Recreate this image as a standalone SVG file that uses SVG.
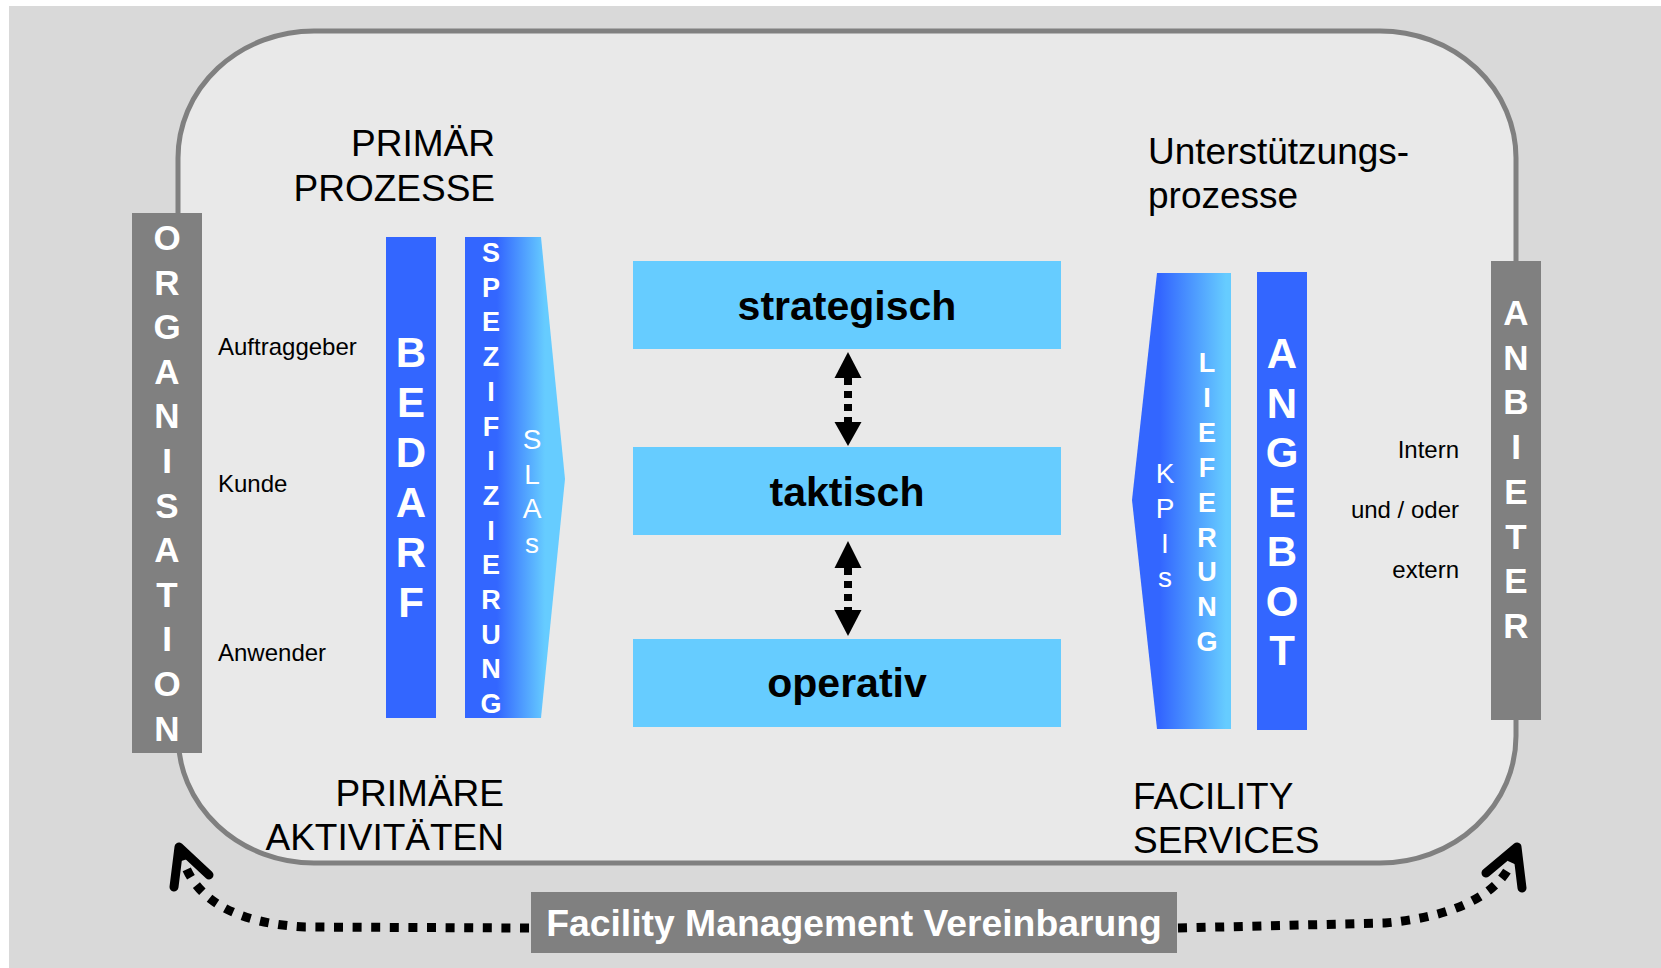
<svg xmlns="http://www.w3.org/2000/svg" width="1661" height="968" viewBox="0 0 1661 968">
<defs>
<style>
.lbl{font-family:"Liberation Sans",Arial,sans-serif;fill:#000}
.vb{font-family:"Liberation Sans",Arial,sans-serif;font-weight:bold;fill:#fff;text-anchor:middle}
.vr{font-family:"Liberation Sans",Arial,sans-serif;fill:#fff;text-anchor:middle}
.gray{fill:#808080}
.blue{fill:#3366ff}
.lev{fill:#66ccff}
.levt{font-family:"Liberation Sans",Arial,sans-serif;font-weight:bold;font-size:41px;fill:#000;text-anchor:middle}
.dot{fill:none;stroke:#000;stroke-width:9;stroke-dasharray:9 9.6}
.head{fill:none;stroke:#000;stroke-width:9;stroke-linecap:round;stroke-linejoin:round}
.vdot{fill:none;stroke:#000;stroke-width:8;stroke-dasharray:7 6}
</style>
<linearGradient id="gSpez" gradientUnits="userSpaceOnUse" x1="497" y1="0" x2="545" y2="0">
<stop offset="0" stop-color="#3366ff"/>
<stop offset="1" stop-color="#66ccff"/>
</linearGradient>
<linearGradient id="gLief" gradientUnits="userSpaceOnUse" x1="1160" y1="0" x2="1226" y2="0">
<stop offset="0" stop-color="#3366ff"/>
<stop offset="1" stop-color="#66ccff"/>
</linearGradient>
</defs>
<rect x="0" y="0" width="1661" height="968" fill="#fff"/>
<rect x="9" y="6" width="1652" height="962" fill="#d9d9d9"/>
<g id="frame">
<rect x="178" y="31" width="1338" height="832" rx="136" ry="127" fill="#e9e9e9" stroke="#808080" stroke-width="5"/>
</g>
<g id="titles" class="lbl">
<text x="495" y="156" font-size="37" text-anchor="end">PRIMÄR</text>
<text x="495" y="201" font-size="37" text-anchor="end">PROZESSE</text>
<text x="1148" y="164" font-size="37">Unterstützungs-</text>
<text x="1148" y="208" font-size="37">prozesse</text>
<text x="504" y="806" font-size="37" text-anchor="end">PRIMÄRE</text>
<text x="504" y="850" font-size="37" text-anchor="end">AKTIVITÄTEN</text>
<text x="1133" y="809" font-size="37">FACILITY</text>
<text x="1133" y="853" font-size="37">SERVICES</text>
</g>
<g id="organisation">
<rect class="gray" x="132" y="213" width="70" height="540"/>
<text class="vb" font-size="35"><tspan x="167" y="250">O</tspan><tspan x="167" y="294.6">R</tspan><tspan x="167" y="339.2">G</tspan><tspan x="167" y="383.8">A</tspan><tspan x="167" y="428.4">N</tspan><tspan x="167" y="473">I</tspan><tspan x="167" y="517.6">S</tspan><tspan x="167" y="562.2">A</tspan><tspan x="167" y="606.8">T</tspan><tspan x="167" y="651.4">I</tspan><tspan x="167" y="696">O</tspan><tspan x="167" y="740.6">N</tspan></text>
</g>
<g id="roles" class="lbl" font-size="24">
<text x="218" y="355">Auftraggeber</text>
<text x="218" y="492">Kunde</text>
<text x="218" y="661">Anwender</text>
</g>
<g id="bedarf">
<rect class="blue" x="386" y="237" width="50" height="481"/>
<text class="vb" font-size="42"><tspan x="411" y="367">B</tspan><tspan x="411" y="417">E</tspan><tspan x="411" y="467">D</tspan><tspan x="411" y="517">A</tspan><tspan x="411" y="567">R</tspan><tspan x="411" y="617">F</tspan></text>
</g>
<g id="spezifizierung">
<polygon points="465,237 541,237 565,479 541,718 465,718" fill="url(#gSpez)"/>
<text class="vb" font-size="27"><tspan x="491" y="262">S</tspan><tspan x="491" y="296.7">P</tspan><tspan x="491" y="331.4">E</tspan><tspan x="491" y="366.1">Z</tspan><tspan x="491" y="400.8">I</tspan><tspan x="491" y="435.5">F</tspan><tspan x="491" y="470.2">I</tspan><tspan x="491" y="504.9">Z</tspan><tspan x="491" y="539.6">I</tspan><tspan x="491" y="574.3">E</tspan><tspan x="491" y="609">R</tspan><tspan x="491" y="643.7">U</tspan><tspan x="491" y="678.4">N</tspan><tspan x="491" y="713.1">G</tspan></text>
<text class="vr" font-size="28"><tspan x="532" y="449">S</tspan><tspan x="532" y="483.5">L</tspan><tspan x="532" y="518">A</tspan><tspan x="532" y="552.5">s</tspan></text>
</g>
<g id="strategisch">
<rect class="lev" x="633" y="261" width="428" height="88"/>
<text class="levt" x="847" y="320">strategisch</text>
</g>
<g id="taktisch">
<rect class="lev" x="633" y="447" width="428" height="88"/>
<text class="levt" x="847" y="506">taktisch</text>
</g>
<g id="operativ">
<rect class="lev" x="633" y="639" width="428" height="88"/>
<text class="levt" x="847" y="697">operativ</text>
</g>
<g id="lieferung">
<polygon points="1157,273 1231,273 1231,729 1157,729 1132,500" fill="url(#gLief)"/>
<text class="vr" font-size="28"><tspan x="1165" y="483">K</tspan><tspan x="1165" y="518">P</tspan><tspan x="1165" y="553">I</tspan><tspan x="1165" y="587">s</tspan></text>
<text class="vb" font-size="27"><tspan x="1207" y="372">L</tspan><tspan x="1207" y="406.9">I</tspan><tspan x="1207" y="441.8">E</tspan><tspan x="1207" y="476.7">F</tspan><tspan x="1207" y="511.6">E</tspan><tspan x="1207" y="546.5">R</tspan><tspan x="1207" y="581.4">U</tspan><tspan x="1207" y="616.3">N</tspan><tspan x="1207" y="651.2">G</tspan></text>
</g>
<g id="angebot">
<rect class="blue" x="1257" y="272" width="50" height="458"/>
<text class="vb" font-size="42"><tspan x="1282" y="368">A</tspan><tspan x="1282" y="417.5">N</tspan><tspan x="1282" y="467">G</tspan><tspan x="1282" y="516.5">E</tspan><tspan x="1282" y="566">B</tspan><tspan x="1282" y="615.5">O</tspan><tspan x="1282" y="665">T</tspan></text>
</g>
<g id="sourcing" class="lbl" font-size="24" text-anchor="end">
<text x="1459" y="458">Intern</text>
<text x="1459" y="518">und / oder</text>
<text x="1459" y="578">extern</text>
</g>
<g id="anbieter">
<rect class="gray" x="1491" y="261" width="50" height="459"/>
<text class="vb" font-size="35"><tspan x="1516" y="325">A</tspan><tspan x="1516" y="369.7">N</tspan><tspan x="1516" y="414.4">B</tspan><tspan x="1516" y="459.1">I</tspan><tspan x="1516" y="503.8">E</tspan><tspan x="1516" y="548.5">T</tspan><tspan x="1516" y="593.2">E</tspan><tspan x="1516" y="637.9">R</tspan></text>
</g>
<g id="vereinbarung">
<rect class="gray" x="531" y="892" width="646" height="61"/>
<text class="vb" font-size="37.3" x="854" y="936">Facility Management Vereinbarung</text>
</g>
<g id="connectors">
<path class="vdot" d="M848 378 L848 422"/>
<polygon points="848,352 834.5,378 861.5,378"/>
<polygon points="848,446 834.5,422 861.5,422"/>
<path class="vdot" d="M848 568 L848 610"/>
<polygon points="848,541 834.5,568 861.5,568"/>
<polygon points="848,636 834.5,610 861.5,610"/>
<path class="dot" d="M529 928 L305 927 C245 924 195 905 182 856"/>
<polyline class="head" points="174,887 179,847 209,875"/>
<path class="dot" d="M1178 928 L1385 923 C1442 918 1500 900 1514 856"/>
<polyline class="head" points="1486,873 1517,847 1522,888"/>
</g>
</svg>
